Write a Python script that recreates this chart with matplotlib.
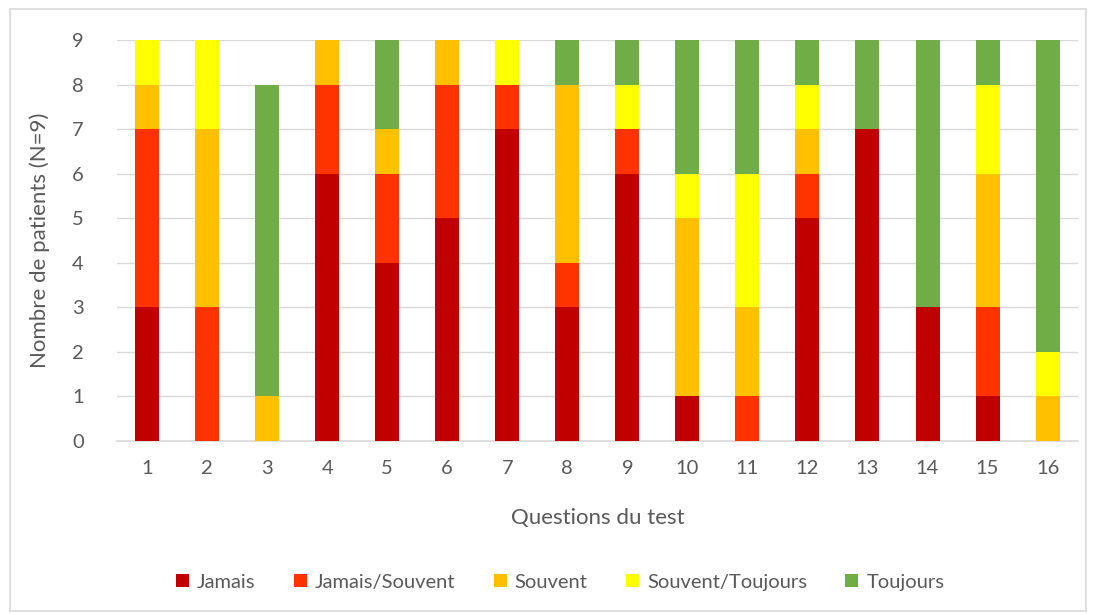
import numpy as np
import matplotlib.pyplot as plt
from matplotlib.patches import Rectangle

questions = [str(i) for i in range(1, 17)]

jamais          = [3, 0, 0, 6, 4, 5, 7, 3, 6, 1, 0, 5, 7, 3, 1, 0]
jamais_souvent  = [4, 3, 0, 2, 2, 3, 1, 1, 1, 0, 1, 1, 0, 0, 2, 0]
souvent         = [1, 4, 1, 1, 1, 1, 0, 4, 0, 4, 2, 1, 0, 0, 3, 1]
souvent_toujours = [1, 2, 0, 0, 0, 0, 1, 0, 1, 1, 3, 1, 0, 0, 2, 1]
toujours        = [0, 0, 7, 0, 2, 0, 0, 1, 1, 3, 3, 1, 2, 6, 1, 7]

series = [
    ("Jamais", jamais, "#C00000"),
    ("Jamais/Souvent", jamais_souvent, "#FF3300"),
    ("Souvent", souvent, "#FFC000"),
    ("Souvent/Toujours", souvent_toujours, "#FFFF00"),
    ("Toujours", toujours, "#70AD47"),
]

plt.rcParams['font.family'] = ['Lato', 'DejaVu Sans']
txt = "#595959"

fig = plt.figure(figsize=(10.94, 6.14), dpi=100)
ax = fig.add_axes([0.107, 0.2818, 0.878, 0.653])

x = np.arange(1, 17)
bottom = np.zeros(16)
for name, vals, col in series:
    ax.bar(x, vals, 0.4, bottom=bottom, color=col, label=name, zorder=3)
    bottom += np.array(vals)

ax.set_xlim(0.5, 16.5)
ax.set_ylim(0, 9)
ax.set_yticks(range(0, 10))
ax.set_xticks(x)
ax.set_xticklabels(questions)
ax.grid(axis='y', color="#D9D9D9", linewidth=1, zorder=0)
for s in ['top', 'right', 'left']:
    ax.spines[s].set_visible(False)
ax.spines['bottom'].set_color("#D9D9D9")
ax.spines['bottom'].set_linewidth(1.2)
ax.tick_params(length=0, labelsize=14.5, colors=txt)
ax.tick_params(axis='x', pad=14)
ax.tick_params(axis='y', pad=24)

ax.set_xlabel("Questions du test", fontsize=16, color=txt, labelpad=22)
ax.set_ylabel("Nombre de patients (N=9)", fontsize=16, color=txt, labelpad=16)

fig.legend(loc='center', bbox_to_anchor=(0.512, 0.052), ncol=5, frameon=False,
           fontsize=14.5, labelcolor=txt, handlelength=0.65, handleheight=0.65,
           handletextpad=0.4, columnspacing=1.9)

fig.patches.append(Rectangle((0.009, 0.005), 0.984, 0.98, transform=fig.transFigure,
                             fill=False, edgecolor="#D9D9D9", linewidth=1.2))

fig.savefig("out.png", dpi=100)
